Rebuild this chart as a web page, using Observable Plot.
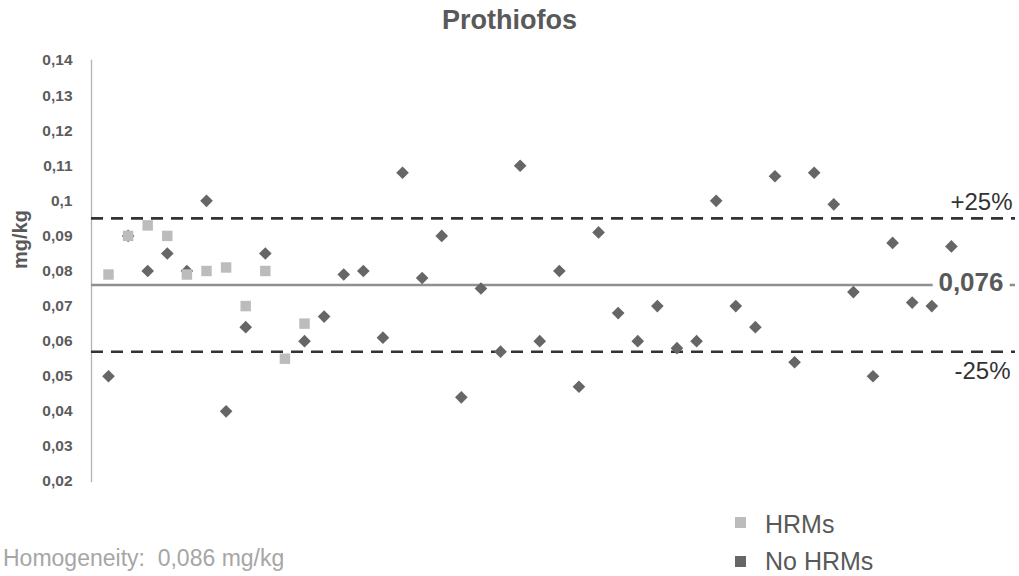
<!DOCTYPE html>
<html>
<head>
<meta charset="utf-8">
<script src="https://cdn.jsdelivr.net/npm/d3@7"></script>
<script src="https://cdn.jsdelivr.net/npm/@observablehq/plot@0.6"></script>
<style>
  body { margin: 0; background: #fff; }
  #wrap { position: relative; width: 1019px; height: 576px; overflow: hidden; font-family: "Liberation Sans", Arial, sans-serif; }
  #chart { position: absolute; left: 0; top: 0; }
  .title { position: absolute; left: 0; width: 1019px; top: 7px; text-align: center; font-size: 27px; line-height: 27px; font-weight: bold; color: #595959; }
  .caption { position: absolute; left: 3px; top: 547px; font-size: 23px; line-height: 23px; color: #a6a6a6; white-space: pre; }
  .leg { position: absolute; left: 735px; height: 22px; font-size: 25px; line-height: 22px; color: #595959; white-space: nowrap; }
  .leg span.sw { position: absolute; left: 0; width: 11px; height: 11px; }
  .leg span.tx { position: absolute; left: 30px; top: 0; }
</style>
</head>
<body>
<div id="wrap">
  <div id="chart"></div>
  <div class="title" id="title"></div>
  <div class="caption" id="caption"></div>
  <div id="legend"></div>
</div>
<script>
// ---- data ----
const titleText = "Prothiofos";
const captionText = "Homogeneity:  0,086 mg/kg";
const yLabel = "mg/kg";
const seriesNames = ["HRMs", "No HRMs"];
const seriesColors = ["#bcbcbc", "#666666"];

// Lab index 1..44 (position along x)
const hrmValues = [0.079, 0.090, 0.093, 0.090, 0.079, 0.080, 0.081, 0.070, 0.080, 0.055, 0.065];
const noHrmValues = [
  0.050, 0.090, 0.080, 0.085, 0.080, 0.100, 0.040, 0.064, 0.085, null,
  0.060, 0.067, 0.079, 0.080, 0.061, 0.108, 0.078, 0.090, 0.044, 0.075,
  0.057, 0.110, 0.060, 0.080, 0.047, 0.091, 0.068, 0.060, 0.070, 0.058,
  0.060, 0.100, 0.070, 0.064, 0.107, 0.054, 0.108, 0.099, 0.074, 0.050,
  0.088, 0.071, 0.070, 0.087
];

const assigned = 0.076;
const upper = 0.095;   // +25%
const lower = 0.057;   // -25%
const assignedLabel = "0,076";
const upperLabel = "+25%";
const lowerLabel = "-25%";

const yTickValues = [0.02, 0.03, 0.04, 0.05, 0.06, 0.07, 0.08, 0.09, 0.10, 0.11, 0.12, 0.13, 0.14];
const yTickLabels = ["0,02", "0,03", "0,04", "0,05", "0,06", "0,07", "0,08", "0,09", "0,1", "0,11", "0,12", "0,13", "0,14"];

// ---- build ----
const hrmData = hrmValues.map((v, i) => ({lab: i + 1, v}));
const noHrmData = noHrmValues.map((v, i) => ({lab: i + 1, v})).filter(d => d.v != null);
const tickMap = new Map(yTickValues.map((v, i) => [v, yTickLabels[i]]));
const font = "'Liberation Sans', Arial, sans-serif";

const plot = Plot.plot({
  width: 1019,
  height: 576,
  marginTop: 60,
  marginBottom: 95,
  marginLeft: 91,
  marginRight: 4,
  style: {fontFamily: font, background: "transparent", color: "#595959", overflow: "visible"},
  x: {domain: [0.133, 47.27], axis: null},
  y: {domain: [0.02, 0.14], axis: null},
  marks: [
    Plot.axisY(yTickValues, {
      tickSize: 0, tickPadding: 19, label: null,
      tickFormat: d => tickMap.get(d),
      fontSize: 15.5, fontWeight: "bold", fill: "#5c5c5c"
    }),
    Plot.frame({anchor: "left", stroke: "#b3b3b3", strokeWidth: 1.3}),
    Plot.ruleY([upper, lower], {stroke: "#333333", strokeWidth: 2.6, strokeDasharray: "12,8"}),
    Plot.ruleY([assigned], {stroke: "#8f8f8f", strokeWidth: 2.6}),
    Plot.dot(noHrmData, {x: "lab", y: "v", symbol: "diamond2", r: 5.7, fill: seriesColors[1], stroke: "none"}),
    Plot.dot(hrmData, {x: "lab", y: "v", symbol: "square", r: 5.9, fill: seriesColors[0], stroke: "none"}),
    Plot.text([assignedLabel], {
      y: [assigned], text: d => d, frameAnchor: "right", textAnchor: "end", dx: -12, dy: -2.5,
      fontSize: 26, fontWeight: "bold", fill: "#595959", stroke: "white", strokeWidth: 14, paintOrder: "stroke"
    }),
    Plot.text([upperLabel], {
      y: [upper], text: d => d, frameAnchor: "right", textAnchor: "end", dx: -3, dy: -16,
      fontSize: 24, fill: "#333333"
    }),
    Plot.text([lowerLabel], {
      y: [lower], text: d => d, frameAnchor: "right", textAnchor: "end", dx: -5, dy: 20,
      fontSize: 24, fill: "#333333"
    }),
    Plot.text([yLabel], {
      text: d => d, frameAnchor: "left", rotate: -90, dx: -71, dy: -2,
      fontSize: 20, fontWeight: "bold", fill: "#595959"
    })
  ]
});
document.getElementById("chart").appendChild(plot);

document.getElementById("title").textContent = titleText;
document.getElementById("caption").textContent = captionText;

const legend = document.getElementById("legend");
const legTops = [513, 550];
const swTops = [4, 6];
seriesNames.forEach((name, i) => {
  const row = document.createElement("div");
  row.className = "leg";
  row.style.top = legTops[i] + "px";
  const sw = document.createElement("span");
  sw.className = "sw";
  sw.style.background = seriesColors[i];
  sw.style.top = swTops[i] + "px";
  const tx = document.createElement("span");
  tx.className = "tx";
  tx.textContent = name;
  row.appendChild(sw);
  row.appendChild(tx);
  legend.appendChild(row);
});
</script>
</body>
</html>
